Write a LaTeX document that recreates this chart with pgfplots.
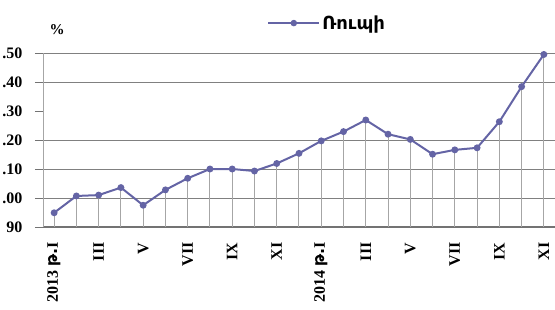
\documentclass[border=0pt]{standalone}
\usepackage{pgfplots}
\pgfplotsset{compat=1.18}
\usepackage{pgfplotstable}
\usepackage{fontspec}
\setmainfont{Liberation Serif}
\newfontfamily\arm{DejaVu Sans}
\definecolor{lc}{RGB}{100,100,165}
\pgfplotstableread{
x y
0 0.949
1 1.007
2 1.010
3 1.036
4 0.975
5 1.028
6 1.068
7 1.100
8 1.100
9 1.093
10 1.119
11 1.154
12 1.197
13 1.229
14 1.269
15 1.220
16 1.202
17 1.151
18 1.166
19 1.173
20 1.263
21 1.384
22 1.495
}\rupee
\begin{document}
\begin{tikzpicture}
\begin{axis}[at={(43pt,82pt)}, anchor=south west, width=512pt, height=174pt, scale only axis,
  xmin=-0.5, xmax=22.5, ymin=0.9, ymax=1.5,
  axis lines*=left,
  x axis line style={draw=black!55, line width=1.4pt},
  y axis line style={draw=black!35, line width=0.8pt},
  xtick={0,2,...,22},
  xticklabels={2013 {\arm թ.}I,III,V,VII,IX,XI,2014 {\arm թ.}I,III,V,VII,IX,XI},
  xticklabel style={yshift=-4pt, rotate=90, anchor=east, font=\bfseries\fontsize{16}{16}\selectfont},
  xtick style={draw=none},
  ytick={0.9,1.0,1.1,1.2,1.4,1.5},
  yticklabels={90,.00,.10,.20,.40,.50},
  extra y ticks={1.3}, extra y tick labels={.30},
  extra y tick style={ymajorgrids=false, tick style={draw=none}},
  yticklabel style={xshift=-9pt, font=\bfseries\fontsize{16}{16}\selectfont},
  ytick style={draw=black!55, line width=0.8pt},
  major tick length=8pt, tick align=outside,
  ymajorgrids, grid style={black!50, line width=0.8pt},
  clip mode=individual,
  legend style={at={(0.555,1.172)}, anchor=center, draw=none, fill=none,
    font=\arm\bfseries\fontsize{18}{18}\selectfont},
  legend image code/.code={\draw[lc,line width=2pt] (0pt,0pt) -- (51pt,0pt); \fill[lc] (25.5pt,0pt) circle (2.2pt);},
]
\addplot[ycomb, black!35, line width=1pt, forget plot] table[x=x,y=y] {\rupee};
\addplot[lc, line width=2pt, mark=*, mark size=2.4pt] table[x=x,y=y] {\rupee};
\addlegendentry{Ռուպի}
\end{axis}
\node[font=\bfseries\fontsize{15}{15}\selectfont] at (57pt,279pt) {\%};
\pgfresetboundingbox
\path (0pt,0pt) rectangle (555pt,309pt);
\end{tikzpicture}
\end{document}
